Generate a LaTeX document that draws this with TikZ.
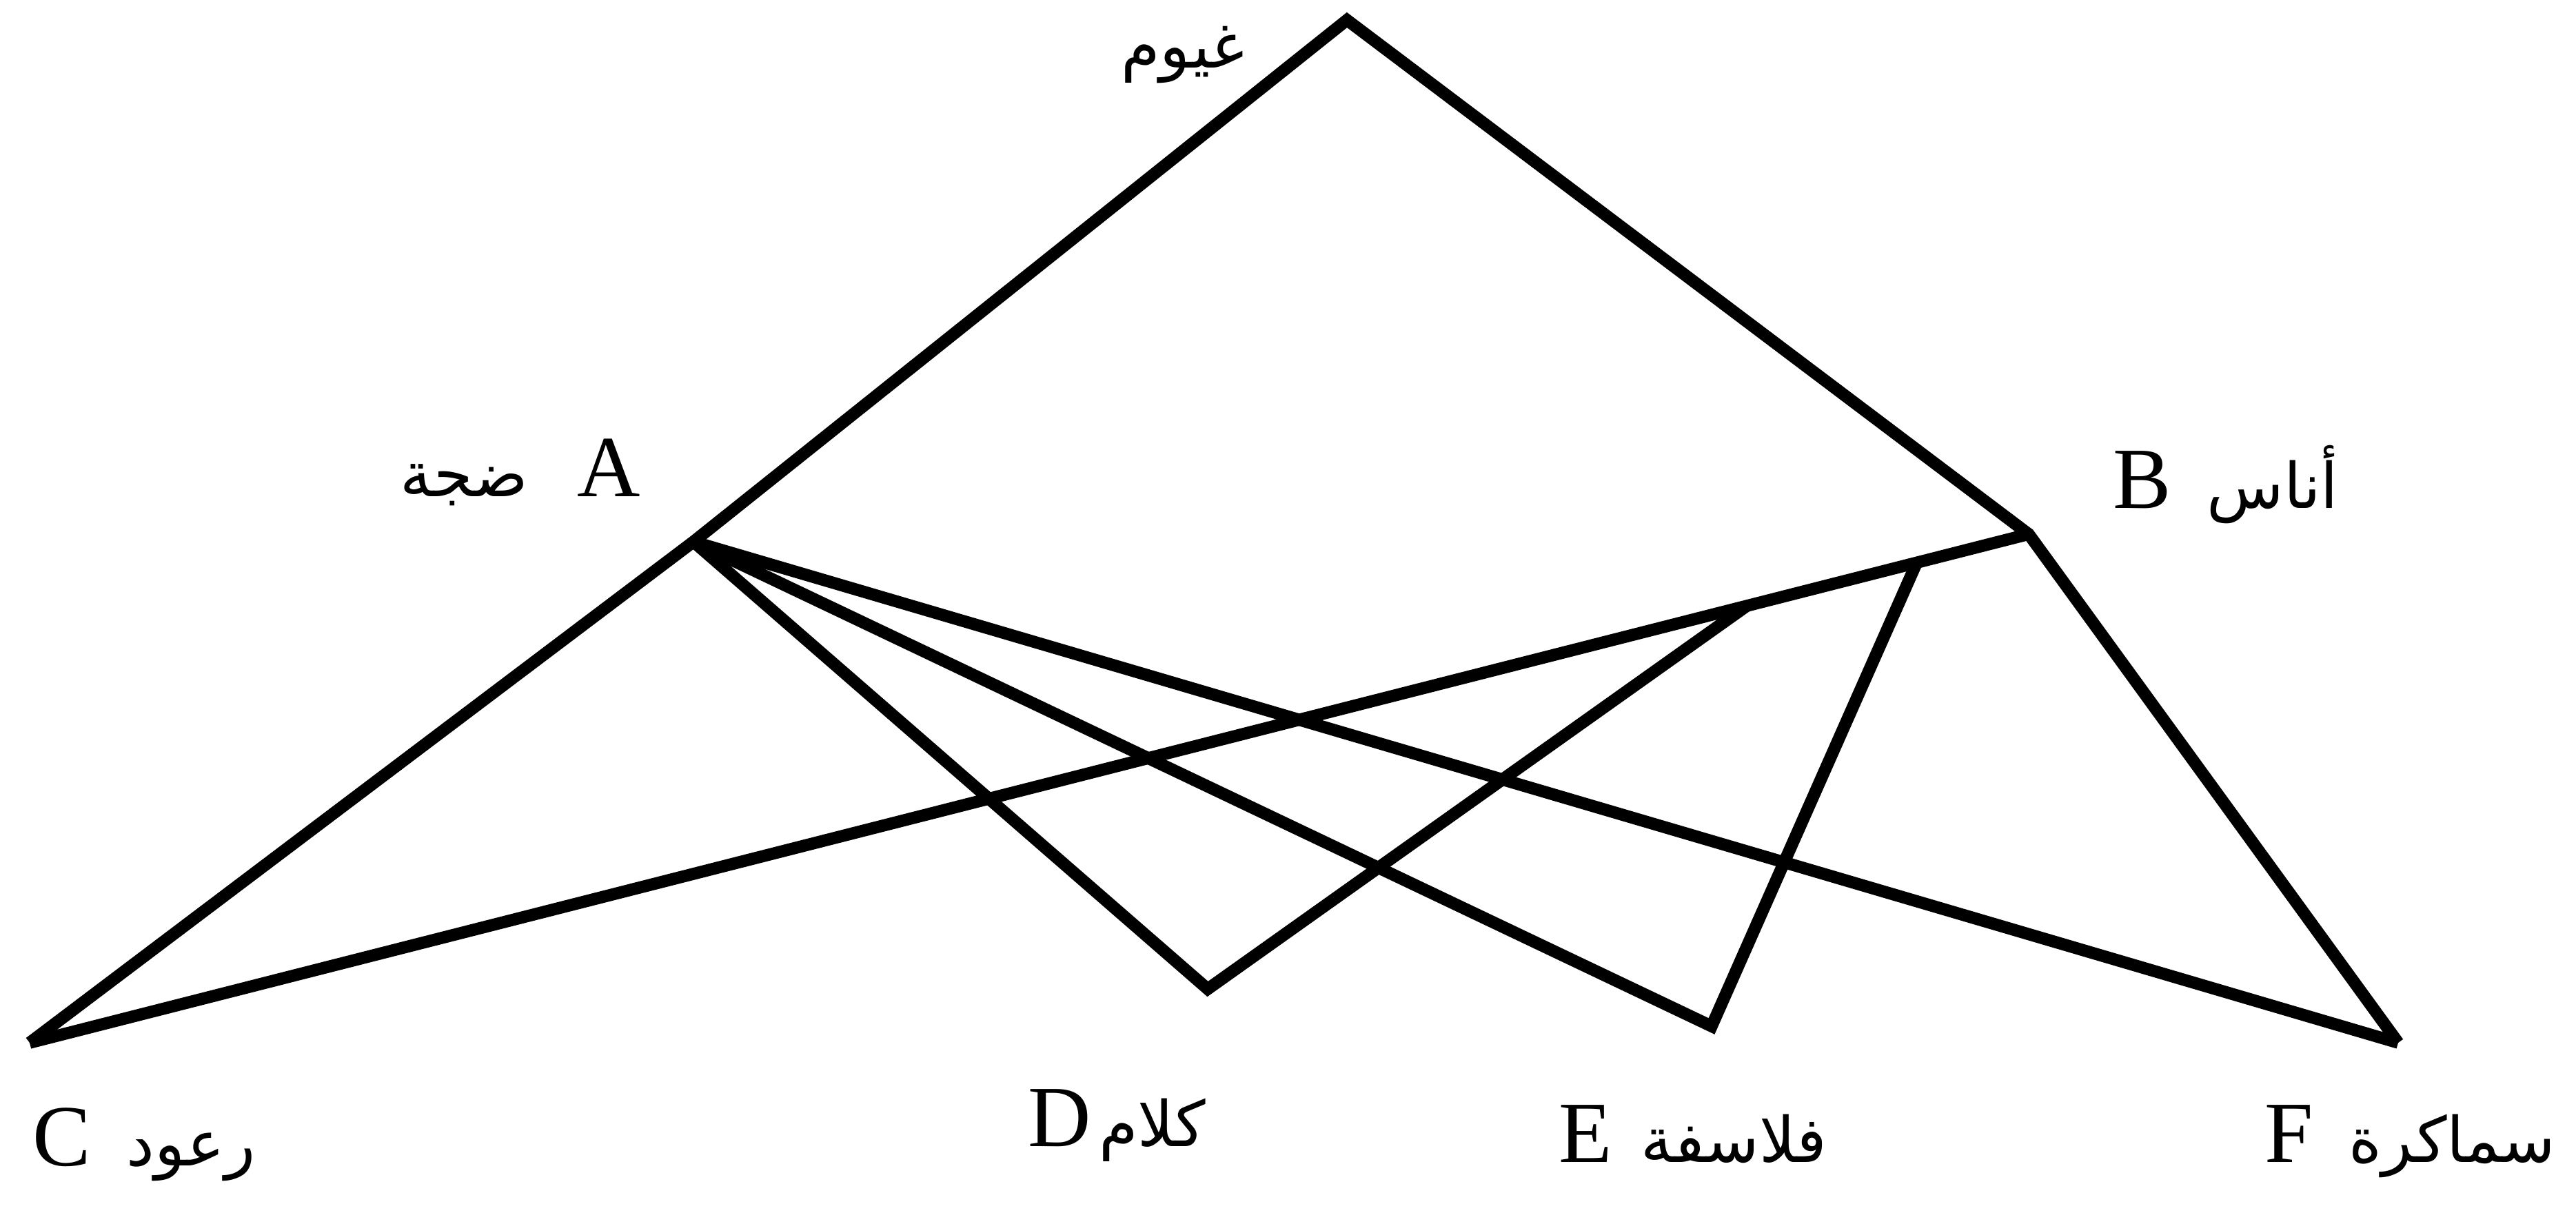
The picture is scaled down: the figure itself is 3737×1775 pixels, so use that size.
\documentclass[tikz,border=0pt]{standalone}
\usepackage{fontspec}
\setmainfont{Liberation Serif}
\newfontfamily\arabicfont[Script=Arabic]{DejaVu Sans}
\TeXXeTstate=1
\usetikzlibrary{positioning,calc}

\begin{document}
\begin{tikzpicture}[
  x=0.01cm, y=-0.01cm,
  edge/.style={line width=5pt, line join=miter},
  letter/.style={font=\fontsize{36}{42}\selectfont, inner sep=0pt},
  word/.style={font=\arabicfont\fontsize{26}{32}\selectfont, inner sep=0pt},
]
\useasboundingbox (0,0) rectangle (3737,1775);

% ── vertices ──
\coordinate (T) at (1954,29);
\coordinate (A) at (1006,786);
\coordinate (B) at (2943,775);
\coordinate (C) at (43,1513);
\coordinate (D) at (1752,1435);
\coordinate (E) at (2483,1489);
\coordinate (F) at (3479,1513);
\coordinate (P) at ($(C)!0.859!(B)$);   % D branch ends on C--B
\coordinate (Q) at ($(C)!0.944!(B)$);   % E branch ends on C--B

% ── edges ──
\draw[edge] (C) -- (A) -- (T) -- (B) -- (F);
\draw[edge] (C) -- (B);
\draw[edge] (A) -- (D) -- (P);
\draw[edge] (A) -- (E) -- (Q);
\draw[edge] (A) -- (F);

% ── labels ──
\node[word] (wT) at (1716,80) {\beginR غيوم\endR};

\node[letter] (labA) at (883,679) {A};
\node[word, base left=7mm of labA] (wA) {\beginR ضجة\endR};

\node[letter] (labB) at (3108,696) {B};
\node[word, base right=5mm of labB] (wB) {\beginR أناس\endR};

\node[letter] (labC) at (90,1650) {C};
\node[word, base right=5mm of labC] (wC) {\beginR رعود\endR};

\node[letter] (labD) at (1537,1622) {D};
\node[word, base right=1mm of labD] (wD) {\beginR كلام\endR};

\node[letter] (labE) at (2300,1645) {E};
\node[word, base right=4mm of labE] (wE) {\beginR فلاسفة\endR};

\node[letter] (labF) at (3321,1645) {F};
\node[word, base right=5mm of labF] (wF) {\beginR سماكرة\endR};

\end{tikzpicture}
\end{document}
